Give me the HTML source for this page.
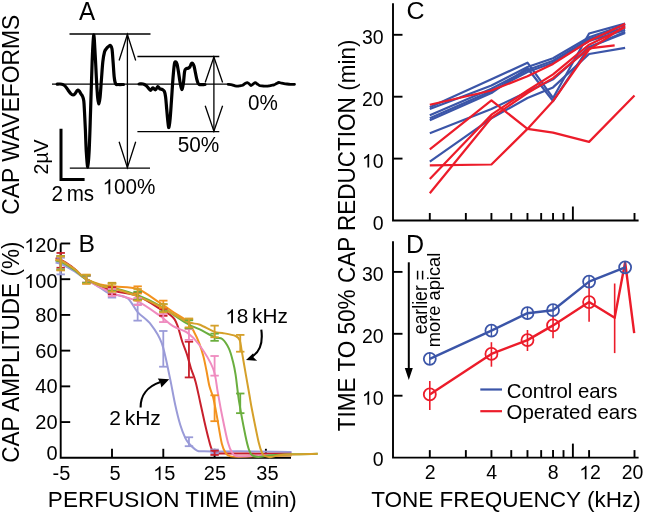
<!DOCTYPE html>
<html><head><meta charset="utf-8"><title>Figure</title>
<style>
html,body{margin:0;padding:0;background:#fff;width:645px;height:515px;overflow:hidden;}
svg{display:block;font-family:"Liberation Sans",sans-serif;will-change:transform;}
</style></head><body>
<svg width="645" height="515" viewBox="0 0 645 515" font-family="'Liberation Sans', sans-serif">
<rect width="645" height="515" fill="#fff"/>
<text font-size="24" transform="translate(79.05,19.95) rotate(0) scale(1.0062,1.0529)" fill="#000" >A</text>
<text font-size="22.5" transform="translate(19.25,214.65) rotate(-90) scale(1.0149,1.0867)" fill="#000" >CAP WAVEFORMS</text>
<line x1="69.50" y1="34.00" x2="150.50" y2="34.00" stroke="#000" stroke-width="1.30" />
<line x1="52.00" y1="84.20" x2="228.00" y2="84.20" stroke="#000" stroke-width="1.30" />
<line x1="69.80" y1="168.20" x2="150.00" y2="168.20" stroke="#000" stroke-width="1.30" />
<line x1="137.40" y1="56.50" x2="219.30" y2="56.50" stroke="#000" stroke-width="1.30" />
<line x1="137.40" y1="131.70" x2="219.30" y2="131.70" stroke="#000" stroke-width="1.30" />
<line x1="127.40" y1="34.50" x2="127.40" y2="167.70" stroke="#000" stroke-width="1.30" />
<path d="M119.10,60.50 L127.40,34.50 L135.70,60.50" fill="none" stroke="#000" stroke-width="1.30"/>
<path d="M119.10,141.70 L127.40,167.70 L135.70,141.70" fill="none" stroke="#000" stroke-width="1.30"/>
<line x1="213.90" y1="57.00" x2="213.90" y2="131.20" stroke="#000" stroke-width="1.30" />
<path d="M205.20,82.50 L213.90,57.00 L222.60,82.50" fill="none" stroke="#000" stroke-width="1.30"/>
<path d="M205.20,105.70 L213.90,131.20 L222.60,105.70" fill="none" stroke="#000" stroke-width="1.30"/>
<path d="M57.20,84.20 C57.67,84.17 59.03,83.93 60.00,84.00 C60.97,84.07 62.08,84.18 63.00,84.60 C63.92,85.02 64.67,85.60 65.50,86.50 C66.33,87.40 67.17,88.87 68.00,90.00 C68.83,91.13 69.67,92.47 70.50,93.30 C71.33,94.13 72.22,94.97 73.00,95.00 C73.78,95.03 74.47,94.28 75.20,93.50 C75.93,92.72 76.72,90.68 77.40,90.30 C78.08,89.92 78.70,90.58 79.30,91.20 C79.90,91.82 80.45,93.12 81.00,94.00 C81.55,94.88 82.13,95.33 82.60,96.50 C83.07,97.67 83.48,98.42 83.80,101.00 C84.12,103.58 84.23,107.17 84.50,112.00 C84.77,116.83 85.10,123.33 85.40,130.00 C85.70,136.67 85.90,145.83 86.30,152.00 C86.70,158.17 87.32,167.33 87.80,167.00 C88.28,166.67 88.73,159.50 89.20,150.00 C89.67,140.50 90.10,125.00 90.60,110.00 C91.10,95.00 91.68,72.50 92.20,60.00 C92.72,47.50 93.20,35.83 93.70,35.00 C94.20,34.17 94.73,47.50 95.20,55.00 C95.67,62.50 96.10,73.00 96.50,80.00 C96.90,87.00 97.22,93.00 97.60,97.00 C97.98,101.00 98.38,104.00 98.80,104.00 C99.22,104.00 99.67,101.00 100.10,97.00 C100.53,93.00 100.95,85.83 101.40,80.00 C101.85,74.17 102.28,66.67 102.80,62.00 C103.32,57.33 103.88,54.25 104.50,52.00 C105.12,49.75 105.83,49.42 106.50,48.50 C107.17,47.58 107.83,47.00 108.50,46.50 C109.17,46.00 109.92,45.08 110.50,45.50 C111.08,45.92 111.57,46.25 112.00,49.00 C112.43,51.75 112.73,57.33 113.10,62.00 C113.47,66.67 113.78,73.37 114.20,77.00 C114.62,80.63 114.97,82.55 115.60,83.80 C116.23,85.05 116.68,84.38 118.00,84.50 C119.32,84.62 122.58,84.50 123.50,84.50" fill="none" stroke="#000" stroke-width="3.2" stroke-linejoin="round" stroke-linecap="round"/>
<path d="M139.10,84.00 C139.75,84.00 141.85,83.75 143.00,84.00 C144.15,84.25 145.13,84.87 146.00,85.50 C146.87,86.13 147.45,87.00 148.20,87.80 C148.95,88.60 149.73,90.28 150.50,90.30 C151.27,90.32 151.97,87.98 152.80,87.90 C153.63,87.82 154.67,90.02 155.50,89.80 C156.33,89.58 157.08,86.77 157.80,86.60 C158.52,86.43 159.07,88.32 159.80,88.80 C160.53,89.28 161.43,89.05 162.20,89.50 C162.97,89.95 163.83,90.25 164.40,91.50 C164.97,92.75 165.23,94.25 165.60,97.00 C165.97,99.75 166.25,104.17 166.60,108.00 C166.95,111.83 167.32,116.73 167.70,120.00 C168.08,123.27 168.48,127.93 168.90,127.60 C169.32,127.27 169.77,122.60 170.20,118.00 C170.63,113.40 171.03,106.67 171.50,100.00 C171.97,93.33 172.52,84.00 173.00,78.00 C173.48,72.00 173.97,66.70 174.40,64.00 C174.83,61.30 175.17,61.80 175.60,61.80 C176.03,61.80 176.52,62.30 177.00,64.00 C177.48,65.70 178.00,69.00 178.50,72.00 C179.00,75.00 179.45,79.08 180.00,82.00 C180.55,84.92 181.23,89.33 181.80,89.50 C182.37,89.67 182.93,86.00 183.40,83.00 C183.87,80.00 184.17,73.87 184.60,71.50 C185.03,69.13 185.43,69.33 186.00,68.80 C186.57,68.27 187.37,68.60 188.00,68.30 C188.63,68.00 189.25,67.75 189.80,67.00 C190.35,66.25 190.85,64.42 191.30,63.80 C191.75,63.18 192.05,62.93 192.50,63.30 C192.95,63.67 193.50,64.38 194.00,66.00 C194.50,67.62 195.00,70.67 195.50,73.00 C196.00,75.33 196.42,78.12 197.00,80.00 C197.58,81.88 197.67,83.55 199.00,84.30 C200.33,85.05 204.00,84.47 205.00,84.50" fill="none" stroke="#000" stroke-width="3.2" stroke-linejoin="round" stroke-linecap="round"/>
<path d="M228.20,84.30 C228.83,84.38 230.87,84.55 232.00,84.80 C233.13,85.05 234.05,85.57 235.00,85.80 C235.95,86.03 236.87,86.20 237.70,86.20 C238.53,86.20 239.18,85.95 240.00,85.80 C240.82,85.65 241.77,85.68 242.60,85.30 C243.43,84.92 244.20,83.95 245.00,83.50 C245.80,83.05 246.68,82.52 247.40,82.60 C248.12,82.68 248.70,83.52 249.30,84.00 C249.90,84.48 250.38,85.47 251.00,85.50 C251.62,85.53 252.28,84.68 253.00,84.20 C253.72,83.72 254.58,82.63 255.30,82.60 C256.02,82.57 256.60,83.52 257.30,84.00 C258.00,84.48 258.72,85.18 259.50,85.50 C260.28,85.82 261.17,85.80 262.00,85.90 C262.83,86.00 263.72,86.07 264.50,86.10 C265.28,86.13 265.95,86.15 266.70,86.10 C267.45,86.05 268.20,85.93 269.00,85.80 C269.80,85.67 270.67,85.45 271.50,85.30 C272.33,85.15 273.17,85.20 274.00,84.90 C274.83,84.60 275.70,83.90 276.50,83.50 C277.30,83.10 278.05,82.58 278.80,82.50 C279.55,82.42 280.13,82.82 281.00,83.00 C281.87,83.18 283.00,83.43 284.00,83.60 C285.00,83.77 285.92,83.88 287.00,84.00 C288.08,84.12 289.25,84.25 290.50,84.30 C291.75,84.35 293.83,84.30 294.50,84.30" fill="none" stroke="#000" stroke-width="2.8" stroke-linejoin="round" stroke-linecap="round"/>
<path d="M61.0,128.8 L61.0,179.6 L84.6,179.6" fill="none" stroke="#000" stroke-width="3"/>
<text font-size="20" transform="translate(47.85,174.45) rotate(-90) scale(0.9743,1.0167)" fill="#000" >2µV</text>
<text font-size="21" transform="translate(51.50,201.20) rotate(0) scale(0.9810,1.0429)" fill="#000" word-spacing="-2">2 ms</text>
<g transform="translate(102.55,194.35) rotate(0) scale(1.0354,1.0929)"><path d="M763,0 L583,0 L583,1147 Q518,1085 412.5,1023 Q307,961 223,930 L223,1104 Q374,1175 487,1276 Q600,1377 647,1472 L763,1472 Z" fill="#000" transform="translate(0.00,0.00) scale(0.00977,-0.00945)"/><text font-size="20" fill="#000" > 00%</text></g>
<text font-size="20" transform="translate(177.65,151.90) rotate(0) scale(1.0395,1.0857)" fill="#000" >50%</text>
<text font-size="20" transform="translate(247.95,110.00) rotate(0) scale(1.0333,1.0714)" fill="#000" >0%</text>
<path d="M60.70,243.50 L60.70,457.80 L291.00,457.80" fill="none" stroke="#000" stroke-width="1.90"/>
<line x1="60.70" y1="422.08" x2="70.20" y2="422.08" stroke="#000" stroke-width="1.90" />
<text x="57.60" y="429.08" font-size="20.00" text-anchor="end" fill="#000" >20</text>
<line x1="60.70" y1="386.36" x2="70.20" y2="386.36" stroke="#000" stroke-width="1.90" />
<text x="57.60" y="393.36" font-size="20.00" text-anchor="end" fill="#000" >40</text>
<line x1="60.70" y1="350.64" x2="70.20" y2="350.64" stroke="#000" stroke-width="1.90" />
<text x="57.60" y="358.04" font-size="20.00" text-anchor="end" fill="#000" >60</text>
<line x1="60.70" y1="314.92" x2="70.20" y2="314.92" stroke="#000" stroke-width="1.90" />
<text x="57.60" y="322.12" font-size="20.00" text-anchor="end" fill="#000" >80</text>
<line x1="60.70" y1="279.20" x2="70.20" y2="279.20" stroke="#000" stroke-width="1.90" />
<path d="M763,0 L583,0 L583,1147 Q518,1085 412.5,1023 Q307,961 223,930 L223,1104 Q374,1175 487,1276 Q600,1377 647,1472 L763,1472 Z" fill="#000" transform="translate(24.23,288.00) scale(0.00977,-0.00945)"/>
<text x="57.60" y="288.00" font-size="20.00" text-anchor="end" fill="#000" > 00</text>
<line x1="60.70" y1="243.48" x2="70.20" y2="243.48" stroke="#000" stroke-width="1.90" />
<path d="M763,0 L583,0 L583,1147 Q518,1085 412.5,1023 Q307,961 223,930 L223,1104 Q374,1175 487,1276 Q600,1377 647,1472 L763,1472 Z" fill="#000" transform="translate(24.23,252.08) scale(0.00977,-0.00945)"/>
<text x="57.60" y="252.08" font-size="20.00" text-anchor="end" fill="#000" > 20</text>
<text x="57.60" y="460.30" font-size="20.00" text-anchor="end" fill="#000" >0</text>
<line x1="112.00" y1="457.80" x2="112.00" y2="448.80" stroke="#000" stroke-width="1.90" />
<line x1="163.30" y1="457.80" x2="163.30" y2="448.80" stroke="#000" stroke-width="1.90" />
<line x1="214.60" y1="457.80" x2="214.60" y2="448.80" stroke="#000" stroke-width="1.90" />
<line x1="265.90" y1="457.80" x2="265.90" y2="448.80" stroke="#000" stroke-width="1.90" />
<text x="61.40" y="480.10" font-size="20.00" text-anchor="middle" fill="#000" >-5</text>
<text x="115.00" y="480.10" font-size="20.00" text-anchor="middle" fill="#000" >5</text>
<path d="M763,0 L583,0 L583,1147 Q518,1085 412.5,1023 Q307,961 223,930 L223,1104 Q374,1175 487,1276 Q600,1377 647,1472 L763,1472 Z" fill="#000" transform="translate(153.08,480.10) scale(0.00977,-0.00945)"/>
<text x="164.20" y="480.10" font-size="20.00" text-anchor="middle" fill="#000" > 5</text>
<text x="214.90" y="480.10" font-size="20.00" text-anchor="middle" fill="#000" >25</text>
<text x="267.40" y="480.10" font-size="20.00" text-anchor="middle" fill="#000" >35</text>
<text font-size="24" transform="translate(78.40,252.30) rotate(0) scale(1.0308,1.0353)" fill="#000" >B</text>
<text font-size="22.5" transform="translate(19.45,462.70) rotate(-90) scale(1.0018,1.0733)" fill="#000" >CAP AMPLITUDE (%)</text>
<text font-size="22.5" transform="translate(47.85,507.15) rotate(0) scale(1.0029,1.0188)" fill="#000" >PERFUSION TIME (min)</text>
<path d="M55.57,262.59 C56.42,262.80 58.99,263.22 60.70,263.84 C62.41,264.47 63.44,265.03 65.83,266.34 C68.22,267.65 72.50,270.09 75.06,271.70 C77.63,273.31 79.34,274.74 81.22,275.99 C83.10,277.24 83.36,277.35 86.35,279.20 C89.34,281.05 95.58,284.80 99.18,287.06 C102.77,289.32 105.16,291.49 107.90,292.77 C110.63,294.05 112.26,293.79 115.59,294.74 C118.93,295.69 124.23,295.60 127.90,298.49 C131.58,301.38 133.80,307.72 137.65,312.06 C141.50,316.41 146.97,319.38 150.99,324.56 C155.01,329.74 158.68,334.63 161.76,343.14 C164.84,351.65 167.23,365.46 169.46,375.64 C171.68,385.82 173.30,396.03 175.10,404.22 C176.89,412.41 178.52,419.10 180.23,424.76 C181.94,430.41 183.91,435.03 185.36,438.15 C186.81,441.28 187.07,441.49 188.95,443.51 C190.83,445.54 194.08,448.99 196.64,450.30 C199.21,451.61 197.07,451.19 204.34,451.37 C211.61,451.55 228.28,451.31 240.25,451.37 C252.22,451.43 267.61,451.61 276.16,451.73 C284.71,451.85 288.99,452.03 291.55,452.08" fill="none" stroke="#9a9bd8" stroke-width="2.00" stroke-linejoin="round"/>
<path d="M55.57,258.13 C56.42,258.36 58.99,258.81 60.70,259.55 C62.41,260.30 63.44,260.98 65.83,262.59 C68.22,264.20 72.50,267.11 75.06,269.20 C77.63,271.28 79.34,273.43 81.22,275.09 C83.10,276.76 83.19,277.29 86.35,279.20 C89.51,281.11 95.33,284.50 100.20,286.52 C105.07,288.55 109.35,289.77 115.59,291.34 C121.83,292.92 130.38,293.16 137.65,295.99 C144.92,298.82 153.04,304.41 159.20,308.31 C165.35,312.21 170.74,313.82 174.59,319.38 C178.43,324.95 180.23,335.91 182.28,341.71 C184.33,347.51 185.44,349.75 186.90,354.21 C188.35,358.68 189.55,363.89 191.00,368.50 C192.46,373.11 194.08,376.24 195.62,381.89 C197.16,387.55 198.78,395.89 200.24,402.43 C201.69,408.98 202.97,415.23 204.34,421.19 C205.71,427.14 207.16,433.39 208.44,438.15 C209.73,442.92 210.58,447.26 212.04,449.76 C213.49,452.26 215.03,452.53 217.17,453.16 C219.30,453.78 216.74,453.42 224.86,453.51 C232.98,453.60 254.78,453.63 265.90,453.69 C277.01,453.75 287.27,453.84 291.55,453.87" fill="none" stroke="#c8202c" stroke-width="2.00" stroke-linejoin="round"/>
<path d="M55.57,259.91 C56.42,260.09 58.99,260.39 60.70,260.98 C62.41,261.58 63.44,262.02 65.83,263.48 C68.22,264.94 72.50,267.77 75.06,269.73 C77.63,271.70 79.34,273.69 81.22,275.27 C83.10,276.85 83.19,277.65 86.35,279.20 C89.51,280.75 95.33,283.34 100.20,284.56 C105.07,285.78 109.35,285.78 115.59,286.52 C121.83,287.27 130.38,286.37 137.65,289.02 C144.92,291.67 153.21,298.55 159.20,302.42 C165.18,306.29 168.94,309.12 173.56,312.24 C178.18,315.37 183.48,317.90 186.90,321.17 C190.32,324.45 192.03,328.23 194.08,331.89 C196.13,335.55 197.67,339.12 199.21,343.14 C200.75,347.16 202.12,351.47 203.31,356.00 C204.51,360.52 205.37,365.23 206.39,370.29 C207.42,375.35 208.36,381.89 209.47,386.36 C210.58,390.83 211.86,392.31 213.06,397.08 C214.26,401.84 215.20,407.20 216.65,414.94 C218.11,422.68 220.24,437.11 221.78,443.51 C223.32,449.91 224.43,451.19 225.89,453.34 C227.34,455.48 228.11,455.81 230.50,456.37 C232.90,456.94 234.35,456.79 240.25,456.73 C246.15,456.67 257.35,456.22 265.90,456.01 C274.45,455.81 287.27,455.57 291.55,455.48" fill="none" stroke="#f3921e" stroke-width="2.00" stroke-linejoin="round"/>
<path d="M55.57,260.27 C56.42,260.45 58.99,260.71 60.70,261.34 C62.41,261.97 63.44,262.56 65.83,264.02 C68.22,265.48 72.50,268.19 75.06,270.09 C77.63,272.00 79.34,273.93 81.22,275.45 C83.10,276.97 83.19,277.21 86.35,279.20 C89.51,281.19 95.33,284.89 100.20,287.42 C105.07,289.95 109.35,292.06 115.59,294.38 C121.83,296.70 130.38,297.86 137.65,301.35 C144.92,304.83 153.30,311.14 159.20,315.28 C165.10,319.41 168.43,323.31 173.05,326.17 C177.66,329.03 182.54,329.33 186.90,332.42 C191.26,335.52 194.85,338.73 199.21,344.75 C203.57,350.76 209.98,360.67 213.06,368.50 C216.14,376.33 216.22,384.13 217.68,391.72 C219.13,399.31 220.07,405.59 221.78,414.04 C223.49,422.50 226.14,435.89 227.94,442.44 C229.73,448.99 231.10,451.07 232.56,453.34 C234.01,455.60 234.52,455.54 236.66,456.01 C238.80,456.49 240.51,456.31 245.38,456.19 C250.25,456.07 258.20,455.54 265.90,455.30 C273.59,455.06 287.27,454.85 291.55,454.76" fill="none" stroke="#ef8bbf" stroke-width="2.00" stroke-linejoin="round"/>
<path d="M55.57,260.63 C56.42,260.80 58.99,261.07 60.70,261.70 C62.41,262.32 63.44,262.92 65.83,264.38 C68.22,265.83 72.50,268.57 75.06,270.45 C77.63,272.32 79.34,274.17 81.22,275.63 C83.10,277.09 83.19,277.56 86.35,279.20 C89.51,280.84 95.33,283.90 100.20,285.45 C105.07,287.00 109.35,286.85 115.59,288.49 C121.83,290.12 130.38,292.45 137.65,295.27 C144.92,298.10 150.99,300.75 159.20,305.45 C167.40,310.16 180.23,319.53 186.90,323.49 C193.57,327.45 194.59,326.92 199.21,329.21 C203.83,331.50 210.75,335.61 214.60,337.25 C218.45,338.88 219.90,337.13 222.30,339.03 C224.69,340.94 227.17,344.84 228.96,348.68 C230.76,352.52 231.96,357.69 233.07,362.07 C234.18,366.45 234.61,368.20 235.63,374.93 C236.66,381.66 237.60,392.34 239.22,402.43 C240.85,412.52 243.76,427.59 245.38,435.48 C247.00,443.36 247.86,446.49 248.97,449.76 C250.08,453.04 250.51,453.93 252.05,455.12 C253.59,456.31 255.04,456.88 258.20,456.91 C261.37,456.94 265.47,455.75 271.03,455.30 C276.59,454.85 283.77,454.47 291.55,454.23 C299.33,453.99 313.35,453.93 317.71,453.87" fill="none" stroke="#6aae3e" stroke-width="2.00" stroke-linejoin="round"/>
<path d="M55.57,259.73 C56.42,259.91 58.99,260.21 60.70,260.80 C62.41,261.40 63.44,261.85 65.83,263.30 C68.22,264.76 72.50,267.59 75.06,269.56 C77.63,271.52 79.34,273.48 81.22,275.09 C83.10,276.70 83.19,277.47 86.35,279.20 C89.51,280.93 95.33,283.81 100.20,285.45 C105.07,287.09 109.35,287.21 115.59,289.02 C121.83,290.84 130.38,293.52 137.65,296.35 C144.92,299.17 150.99,301.79 159.20,305.99 C167.40,310.19 180.23,318.43 186.90,321.53 C193.57,324.62 194.59,322.84 199.21,324.56 C203.83,326.29 210.75,330.49 214.60,331.89 C218.45,333.29 218.79,332.27 222.30,332.96 C225.80,333.64 232.73,334.77 235.63,335.99 C238.54,337.22 238.71,337.75 239.74,340.28 C240.76,342.81 240.76,345.40 241.79,351.18 C242.81,356.95 244.61,367.58 245.89,374.93 C247.18,382.28 248.46,389.46 249.48,395.29 C250.51,401.12 250.51,402.08 252.05,409.94 C253.59,417.79 257.01,435.21 258.72,442.44 C260.43,449.67 261.11,451.01 262.31,453.34 C263.51,455.66 264.45,455.75 265.90,456.37 C267.35,457.00 268.04,457.35 271.03,457.09 C274.02,456.82 276.07,455.30 283.86,454.76 C291.64,454.23 312.07,454.02 317.71,453.87" fill="none" stroke="#d5a02a" stroke-width="2.00" stroke-linejoin="round"/>
<line x1="60.70" y1="257.77" x2="60.70" y2="274.38" stroke="#9a9bd8" stroke-width="1.80" />
<line x1="56.50" y1="257.77" x2="64.90" y2="257.77" stroke="#9a9bd8" stroke-width="1.80" />
<line x1="56.50" y1="274.38" x2="64.90" y2="274.38" stroke="#9a9bd8" stroke-width="1.80" />
<line x1="86.35" y1="275.63" x2="86.35" y2="282.77" stroke="#9a9bd8" stroke-width="1.80" />
<line x1="82.15" y1="275.63" x2="90.55" y2="275.63" stroke="#9a9bd8" stroke-width="1.80" />
<line x1="82.15" y1="282.77" x2="90.55" y2="282.77" stroke="#9a9bd8" stroke-width="1.80" />
<line x1="112.00" y1="290.81" x2="112.00" y2="297.60" stroke="#9a9bd8" stroke-width="1.80" />
<line x1="107.80" y1="290.81" x2="116.20" y2="290.81" stroke="#9a9bd8" stroke-width="1.80" />
<line x1="107.80" y1="297.60" x2="116.20" y2="297.60" stroke="#9a9bd8" stroke-width="1.80" />
<line x1="137.65" y1="304.56" x2="137.65" y2="320.64" stroke="#9a9bd8" stroke-width="1.80" />
<line x1="133.45" y1="304.56" x2="141.85" y2="304.56" stroke="#9a9bd8" stroke-width="1.80" />
<line x1="133.45" y1="320.64" x2="141.85" y2="320.64" stroke="#9a9bd8" stroke-width="1.80" />
<line x1="163.30" y1="330.99" x2="163.30" y2="366.71" stroke="#9a9bd8" stroke-width="1.80" />
<line x1="159.10" y1="330.99" x2="167.50" y2="330.99" stroke="#9a9bd8" stroke-width="1.80" />
<line x1="159.10" y1="366.71" x2="167.50" y2="366.71" stroke="#9a9bd8" stroke-width="1.80" />
<line x1="188.95" y1="437.26" x2="188.95" y2="446.19" stroke="#9a9bd8" stroke-width="1.80" />
<line x1="184.75" y1="437.26" x2="193.15" y2="437.26" stroke="#9a9bd8" stroke-width="1.80" />
<line x1="184.75" y1="446.19" x2="193.15" y2="446.19" stroke="#9a9bd8" stroke-width="1.80" />
<line x1="214.60" y1="449.58" x2="214.60" y2="453.16" stroke="#9a9bd8" stroke-width="1.80" />
<line x1="210.40" y1="449.58" x2="218.80" y2="449.58" stroke="#9a9bd8" stroke-width="1.80" />
<line x1="210.40" y1="453.16" x2="218.80" y2="453.16" stroke="#9a9bd8" stroke-width="1.80" />
<line x1="60.70" y1="252.95" x2="60.70" y2="267.77" stroke="#c8202c" stroke-width="1.80" />
<line x1="56.50" y1="252.95" x2="64.90" y2="252.95" stroke="#c8202c" stroke-width="1.80" />
<line x1="56.50" y1="267.77" x2="64.90" y2="267.77" stroke="#c8202c" stroke-width="1.80" />
<line x1="86.35" y1="275.63" x2="86.35" y2="282.77" stroke="#c8202c" stroke-width="1.80" />
<line x1="82.15" y1="275.63" x2="90.55" y2="275.63" stroke="#c8202c" stroke-width="1.80" />
<line x1="82.15" y1="282.77" x2="90.55" y2="282.77" stroke="#c8202c" stroke-width="1.80" />
<line x1="112.00" y1="287.24" x2="112.00" y2="294.38" stroke="#c8202c" stroke-width="1.80" />
<line x1="107.80" y1="287.24" x2="116.20" y2="287.24" stroke="#c8202c" stroke-width="1.80" />
<line x1="107.80" y1="294.38" x2="116.20" y2="294.38" stroke="#c8202c" stroke-width="1.80" />
<line x1="137.65" y1="292.60" x2="137.65" y2="299.74" stroke="#c8202c" stroke-width="1.80" />
<line x1="133.45" y1="292.60" x2="141.85" y2="292.60" stroke="#c8202c" stroke-width="1.80" />
<line x1="133.45" y1="299.74" x2="141.85" y2="299.74" stroke="#c8202c" stroke-width="1.80" />
<line x1="163.30" y1="308.67" x2="163.30" y2="315.81" stroke="#c8202c" stroke-width="1.80" />
<line x1="159.10" y1="308.67" x2="167.50" y2="308.67" stroke="#c8202c" stroke-width="1.80" />
<line x1="159.10" y1="315.81" x2="167.50" y2="315.81" stroke="#c8202c" stroke-width="1.80" />
<line x1="188.95" y1="341.71" x2="188.95" y2="377.43" stroke="#c8202c" stroke-width="1.80" />
<line x1="184.75" y1="341.71" x2="193.15" y2="341.71" stroke="#c8202c" stroke-width="1.80" />
<line x1="184.75" y1="377.43" x2="193.15" y2="377.43" stroke="#c8202c" stroke-width="1.80" />
<line x1="214.60" y1="450.66" x2="214.60" y2="454.94" stroke="#c8202c" stroke-width="1.80" />
<line x1="210.40" y1="450.66" x2="218.80" y2="450.66" stroke="#c8202c" stroke-width="1.80" />
<line x1="210.40" y1="454.94" x2="218.80" y2="454.94" stroke="#c8202c" stroke-width="1.80" />
<line x1="60.70" y1="256.34" x2="60.70" y2="270.27" stroke="#f3921e" stroke-width="1.80" />
<line x1="56.50" y1="256.34" x2="64.90" y2="256.34" stroke="#f3921e" stroke-width="1.80" />
<line x1="56.50" y1="270.27" x2="64.90" y2="270.27" stroke="#f3921e" stroke-width="1.80" />
<line x1="86.35" y1="274.74" x2="86.35" y2="283.67" stroke="#f3921e" stroke-width="1.80" />
<line x1="82.15" y1="274.74" x2="90.55" y2="274.74" stroke="#f3921e" stroke-width="1.80" />
<line x1="82.15" y1="283.67" x2="90.55" y2="283.67" stroke="#f3921e" stroke-width="1.80" />
<line x1="112.00" y1="282.77" x2="112.00" y2="289.92" stroke="#f3921e" stroke-width="1.80" />
<line x1="107.80" y1="282.77" x2="116.20" y2="282.77" stroke="#f3921e" stroke-width="1.80" />
<line x1="107.80" y1="289.92" x2="116.20" y2="289.92" stroke="#f3921e" stroke-width="1.80" />
<line x1="137.65" y1="286.34" x2="137.65" y2="293.49" stroke="#f3921e" stroke-width="1.80" />
<line x1="133.45" y1="286.34" x2="141.85" y2="286.34" stroke="#f3921e" stroke-width="1.80" />
<line x1="133.45" y1="293.49" x2="141.85" y2="293.49" stroke="#f3921e" stroke-width="1.80" />
<line x1="163.30" y1="300.63" x2="163.30" y2="307.78" stroke="#f3921e" stroke-width="1.80" />
<line x1="159.10" y1="300.63" x2="167.50" y2="300.63" stroke="#f3921e" stroke-width="1.80" />
<line x1="159.10" y1="307.78" x2="167.50" y2="307.78" stroke="#f3921e" stroke-width="1.80" />
<line x1="188.95" y1="319.38" x2="188.95" y2="328.31" stroke="#f3921e" stroke-width="1.80" />
<line x1="184.75" y1="319.38" x2="193.15" y2="319.38" stroke="#f3921e" stroke-width="1.80" />
<line x1="184.75" y1="328.31" x2="193.15" y2="328.31" stroke="#f3921e" stroke-width="1.80" />
<line x1="214.60" y1="395.29" x2="214.60" y2="421.19" stroke="#f3921e" stroke-width="1.80" />
<line x1="210.40" y1="395.29" x2="218.80" y2="395.29" stroke="#f3921e" stroke-width="1.80" />
<line x1="210.40" y1="421.19" x2="218.80" y2="421.19" stroke="#f3921e" stroke-width="1.80" />
<line x1="60.70" y1="255.98" x2="60.70" y2="269.38" stroke="#ef8bbf" stroke-width="1.80" />
<line x1="56.50" y1="255.98" x2="64.90" y2="255.98" stroke="#ef8bbf" stroke-width="1.80" />
<line x1="56.50" y1="269.38" x2="64.90" y2="269.38" stroke="#ef8bbf" stroke-width="1.80" />
<line x1="86.35" y1="275.63" x2="86.35" y2="282.77" stroke="#ef8bbf" stroke-width="1.80" />
<line x1="82.15" y1="275.63" x2="90.55" y2="275.63" stroke="#ef8bbf" stroke-width="1.80" />
<line x1="82.15" y1="282.77" x2="90.55" y2="282.77" stroke="#ef8bbf" stroke-width="1.80" />
<line x1="112.00" y1="289.02" x2="112.00" y2="296.17" stroke="#ef8bbf" stroke-width="1.80" />
<line x1="107.80" y1="289.02" x2="116.20" y2="289.02" stroke="#ef8bbf" stroke-width="1.80" />
<line x1="107.80" y1="296.17" x2="116.20" y2="296.17" stroke="#ef8bbf" stroke-width="1.80" />
<line x1="137.65" y1="297.95" x2="137.65" y2="305.10" stroke="#ef8bbf" stroke-width="1.80" />
<line x1="133.45" y1="297.95" x2="141.85" y2="297.95" stroke="#ef8bbf" stroke-width="1.80" />
<line x1="133.45" y1="305.10" x2="141.85" y2="305.10" stroke="#ef8bbf" stroke-width="1.80" />
<line x1="163.30" y1="314.03" x2="163.30" y2="322.06" stroke="#ef8bbf" stroke-width="1.80" />
<line x1="159.10" y1="314.03" x2="167.50" y2="314.03" stroke="#ef8bbf" stroke-width="1.80" />
<line x1="159.10" y1="322.06" x2="167.50" y2="322.06" stroke="#ef8bbf" stroke-width="1.80" />
<line x1="188.95" y1="329.21" x2="188.95" y2="339.92" stroke="#ef8bbf" stroke-width="1.80" />
<line x1="184.75" y1="329.21" x2="193.15" y2="329.21" stroke="#ef8bbf" stroke-width="1.80" />
<line x1="184.75" y1="339.92" x2="193.15" y2="339.92" stroke="#ef8bbf" stroke-width="1.80" />
<line x1="214.60" y1="356.00" x2="214.60" y2="375.64" stroke="#ef8bbf" stroke-width="1.80" />
<line x1="210.40" y1="356.00" x2="218.80" y2="356.00" stroke="#ef8bbf" stroke-width="1.80" />
<line x1="210.40" y1="375.64" x2="218.80" y2="375.64" stroke="#ef8bbf" stroke-width="1.80" />
<line x1="60.70" y1="255.98" x2="60.70" y2="269.38" stroke="#6aae3e" stroke-width="1.80" />
<line x1="56.50" y1="255.98" x2="64.90" y2="255.98" stroke="#6aae3e" stroke-width="1.80" />
<line x1="56.50" y1="269.38" x2="64.90" y2="269.38" stroke="#6aae3e" stroke-width="1.80" />
<line x1="86.35" y1="275.63" x2="86.35" y2="282.77" stroke="#6aae3e" stroke-width="1.80" />
<line x1="82.15" y1="275.63" x2="90.55" y2="275.63" stroke="#6aae3e" stroke-width="1.80" />
<line x1="82.15" y1="282.77" x2="90.55" y2="282.77" stroke="#6aae3e" stroke-width="1.80" />
<line x1="112.00" y1="283.49" x2="112.00" y2="290.81" stroke="#6aae3e" stroke-width="1.80" />
<line x1="107.80" y1="283.49" x2="116.20" y2="283.49" stroke="#6aae3e" stroke-width="1.80" />
<line x1="107.80" y1="290.81" x2="116.20" y2="290.81" stroke="#6aae3e" stroke-width="1.80" />
<line x1="137.65" y1="291.70" x2="137.65" y2="299.74" stroke="#6aae3e" stroke-width="1.80" />
<line x1="133.45" y1="291.70" x2="141.85" y2="291.70" stroke="#6aae3e" stroke-width="1.80" />
<line x1="133.45" y1="299.74" x2="141.85" y2="299.74" stroke="#6aae3e" stroke-width="1.80" />
<line x1="163.30" y1="304.20" x2="163.30" y2="311.35" stroke="#6aae3e" stroke-width="1.80" />
<line x1="159.10" y1="304.20" x2="167.50" y2="304.20" stroke="#6aae3e" stroke-width="1.80" />
<line x1="159.10" y1="311.35" x2="167.50" y2="311.35" stroke="#6aae3e" stroke-width="1.80" />
<line x1="188.95" y1="320.28" x2="188.95" y2="328.31" stroke="#6aae3e" stroke-width="1.80" />
<line x1="184.75" y1="320.28" x2="193.15" y2="320.28" stroke="#6aae3e" stroke-width="1.80" />
<line x1="184.75" y1="328.31" x2="193.15" y2="328.31" stroke="#6aae3e" stroke-width="1.80" />
<line x1="214.60" y1="333.67" x2="214.60" y2="340.82" stroke="#6aae3e" stroke-width="1.80" />
<line x1="210.40" y1="333.67" x2="218.80" y2="333.67" stroke="#6aae3e" stroke-width="1.80" />
<line x1="210.40" y1="340.82" x2="218.80" y2="340.82" stroke="#6aae3e" stroke-width="1.80" />
<line x1="240.25" y1="393.50" x2="240.25" y2="413.15" stroke="#6aae3e" stroke-width="1.80" />
<line x1="236.05" y1="393.50" x2="244.45" y2="393.50" stroke="#6aae3e" stroke-width="1.80" />
<line x1="236.05" y1="413.15" x2="244.45" y2="413.15" stroke="#6aae3e" stroke-width="1.80" />
<line x1="60.70" y1="256.34" x2="60.70" y2="270.27" stroke="#d5a02a" stroke-width="1.80" />
<line x1="56.50" y1="256.34" x2="64.90" y2="256.34" stroke="#d5a02a" stroke-width="1.80" />
<line x1="56.50" y1="270.27" x2="64.90" y2="270.27" stroke="#d5a02a" stroke-width="1.80" />
<line x1="86.35" y1="274.74" x2="86.35" y2="283.67" stroke="#d5a02a" stroke-width="1.80" />
<line x1="82.15" y1="274.74" x2="90.55" y2="274.74" stroke="#d5a02a" stroke-width="1.80" />
<line x1="82.15" y1="283.67" x2="90.55" y2="283.67" stroke="#d5a02a" stroke-width="1.80" />
<line x1="112.00" y1="283.67" x2="112.00" y2="291.70" stroke="#d5a02a" stroke-width="1.80" />
<line x1="107.80" y1="283.67" x2="116.20" y2="283.67" stroke="#d5a02a" stroke-width="1.80" />
<line x1="107.80" y1="291.70" x2="116.20" y2="291.70" stroke="#d5a02a" stroke-width="1.80" />
<line x1="137.65" y1="289.02" x2="137.65" y2="300.63" stroke="#d5a02a" stroke-width="1.80" />
<line x1="133.45" y1="289.02" x2="141.85" y2="289.02" stroke="#d5a02a" stroke-width="1.80" />
<line x1="133.45" y1="300.63" x2="141.85" y2="300.63" stroke="#d5a02a" stroke-width="1.80" />
<line x1="163.30" y1="304.20" x2="163.30" y2="312.24" stroke="#d5a02a" stroke-width="1.80" />
<line x1="159.10" y1="304.20" x2="167.50" y2="304.20" stroke="#d5a02a" stroke-width="1.80" />
<line x1="159.10" y1="312.24" x2="167.50" y2="312.24" stroke="#d5a02a" stroke-width="1.80" />
<line x1="188.95" y1="318.49" x2="188.95" y2="327.42" stroke="#d5a02a" stroke-width="1.80" />
<line x1="184.75" y1="318.49" x2="193.15" y2="318.49" stroke="#d5a02a" stroke-width="1.80" />
<line x1="184.75" y1="327.42" x2="193.15" y2="327.42" stroke="#d5a02a" stroke-width="1.80" />
<line x1="214.60" y1="325.64" x2="214.60" y2="337.25" stroke="#d5a02a" stroke-width="1.80" />
<line x1="210.40" y1="325.64" x2="218.80" y2="325.64" stroke="#d5a02a" stroke-width="1.80" />
<line x1="210.40" y1="337.25" x2="218.80" y2="337.25" stroke="#d5a02a" stroke-width="1.80" />
<line x1="240.25" y1="334.92" x2="240.25" y2="351.71" stroke="#d5a02a" stroke-width="1.80" />
<line x1="236.05" y1="334.92" x2="244.45" y2="334.92" stroke="#d5a02a" stroke-width="1.80" />
<line x1="236.05" y1="351.71" x2="244.45" y2="351.71" stroke="#d5a02a" stroke-width="1.80" />
<g transform="translate(225.25,323.35) rotate(0) scale(1.0119,0.9800)"><path d="M763,0 L583,0 L583,1147 Q518,1085 412.5,1023 Q307,961 223,930 L223,1104 Q374,1175 487,1276 Q600,1377 647,1472 L763,1472 Z" fill="#000" transform="translate(0.00,0.00) scale(0.01001,-0.00969)"/><text font-size="20.5" fill="#000" word-spacing="-2"> 8 kHz</text></g>
<text font-size="20.5" transform="translate(109.15,424.50) rotate(0) scale(1.0265,0.9467)" fill="#000" word-spacing="-2">2 kHz</text>
<path d="M140.6,407.6 C140.4,396 147,386.5 160.5,382" fill="none" stroke="#000" stroke-width="2.1"/>
<path d="M169.2,379.3 L157.8,378.6 L160.2,382.6 L161.4,387.6 Z" fill="#000"/>
<path d="M261.3,329.7 C263,342 260.5,351 252.5,356.2" fill="none" stroke="#000" stroke-width="2.1"/>
<path d="M246.0,360.0 L253.2,353.2 L253.6,357.6 L257.2,360.8 Z" fill="#000"/>
<path d="M393.00,3.20 L393.00,220.50 L638.60,220.50" fill="none" stroke="#000" stroke-width="1.90"/>
<line x1="429.80" y1="220.50" x2="429.80" y2="213.00" stroke="#000" stroke-width="1.90" />
<line x1="465.85" y1="220.50" x2="465.85" y2="213.00" stroke="#000" stroke-width="1.90" />
<line x1="491.42" y1="220.50" x2="491.42" y2="213.00" stroke="#000" stroke-width="1.90" />
<line x1="511.26" y1="220.50" x2="511.26" y2="213.00" stroke="#000" stroke-width="1.90" />
<line x1="527.47" y1="220.50" x2="527.47" y2="213.00" stroke="#000" stroke-width="1.90" />
<line x1="541.17" y1="220.50" x2="541.17" y2="213.00" stroke="#000" stroke-width="1.90" />
<line x1="553.04" y1="220.50" x2="553.04" y2="213.00" stroke="#000" stroke-width="1.90" />
<line x1="563.51" y1="220.50" x2="563.51" y2="213.00" stroke="#000" stroke-width="1.90" />
<line x1="572.88" y1="220.50" x2="572.88" y2="206.50" stroke="#000" stroke-width="1.90" />
<line x1="634.50" y1="220.50" x2="634.50" y2="213.00" stroke="#000" stroke-width="1.90" />
<line x1="393.00" y1="158.60" x2="402.50" y2="158.60" stroke="#000" stroke-width="1.90" />
<path d="M763,0 L583,0 L583,1147 Q518,1085 412.5,1023 Q307,961 223,930 L223,1104 Q374,1175 487,1276 Q600,1377 647,1472 L763,1472 Z" fill="#000" transform="translate(361.91,167.62) scale(0.00952,-0.00922)"/>
<text x="383.60" y="167.62" font-size="19.50" text-anchor="end" fill="#000" > 0</text>
<line x1="393.00" y1="96.70" x2="402.50" y2="96.70" stroke="#000" stroke-width="1.90" />
<text x="383.60" y="105.72" font-size="19.50" text-anchor="end" fill="#000" >20</text>
<line x1="393.00" y1="34.80" x2="402.50" y2="34.80" stroke="#000" stroke-width="1.90" />
<text x="383.60" y="43.82" font-size="19.50" text-anchor="end" fill="#000" >30</text>
<text x="383.60" y="229.82" font-size="19.50" text-anchor="end" fill="#000" >0</text>
<text font-size="24" transform="translate(406.60,19.35) rotate(0) scale(1.0400,1.0294)" fill="#000" >C</text>
<path d="M393.00,241.30 L393.00,457.60 L638.60,457.60" fill="none" stroke="#000" stroke-width="1.90"/>
<line x1="429.80" y1="457.60" x2="429.80" y2="450.10" stroke="#000" stroke-width="1.90" />
<line x1="465.85" y1="457.60" x2="465.85" y2="450.10" stroke="#000" stroke-width="1.90" />
<line x1="491.42" y1="457.60" x2="491.42" y2="450.10" stroke="#000" stroke-width="1.90" />
<line x1="511.26" y1="457.60" x2="511.26" y2="450.10" stroke="#000" stroke-width="1.90" />
<line x1="527.47" y1="457.60" x2="527.47" y2="450.10" stroke="#000" stroke-width="1.90" />
<line x1="541.17" y1="457.60" x2="541.17" y2="450.10" stroke="#000" stroke-width="1.90" />
<line x1="553.04" y1="457.60" x2="553.04" y2="450.10" stroke="#000" stroke-width="1.90" />
<line x1="563.51" y1="457.60" x2="563.51" y2="450.10" stroke="#000" stroke-width="1.90" />
<line x1="572.88" y1="457.60" x2="572.88" y2="443.60" stroke="#000" stroke-width="1.90" />
<line x1="589.09" y1="457.60" x2="589.09" y2="450.10" stroke="#000" stroke-width="1.90" />
<line x1="634.50" y1="457.60" x2="634.50" y2="450.10" stroke="#000" stroke-width="1.90" />
<line x1="393.00" y1="395.70" x2="402.50" y2="395.70" stroke="#000" stroke-width="1.90" />
<path d="M763,0 L583,0 L583,1147 Q518,1085 412.5,1023 Q307,961 223,930 L223,1104 Q374,1175 487,1276 Q600,1377 647,1472 L763,1472 Z" fill="#000" transform="translate(361.91,404.83) scale(0.00952,-0.00922)"/>
<text x="383.60" y="404.83" font-size="19.50" text-anchor="end" fill="#000" > 0</text>
<line x1="393.00" y1="333.80" x2="402.50" y2="333.80" stroke="#000" stroke-width="1.90" />
<text x="383.60" y="342.93" font-size="19.50" text-anchor="end" fill="#000" >20</text>
<line x1="393.00" y1="271.90" x2="402.50" y2="271.90" stroke="#000" stroke-width="1.90" />
<text x="383.60" y="281.02" font-size="19.50" text-anchor="end" fill="#000" >30</text>
<text x="383.60" y="466.43" font-size="19.50" text-anchor="end" fill="#000" >0</text>
<text font-size="24" transform="translate(405.90,252.65) rotate(0) scale(1.0429,1.0412)" fill="#000" >D</text>
<text x="430.20" y="479.30" font-size="19.50" text-anchor="middle" fill="#000" >2</text>
<text x="491.70" y="479.30" font-size="19.50" text-anchor="middle" fill="#000" >4</text>
<text x="553.20" y="479.30" font-size="19.50" text-anchor="middle" fill="#000" >8</text>
<path d="M763,0 L583,0 L583,1147 Q518,1085 412.5,1023 Q307,961 223,930 L223,1104 Q374,1175 487,1276 Q600,1377 647,1472 L763,1472 Z" fill="#000" transform="translate(579.25,479.30) scale(0.00952,-0.00922)"/>
<text x="590.10" y="479.30" font-size="19.50" text-anchor="middle" fill="#000" > 2</text>
<text x="632.50" y="479.30" font-size="19.50" text-anchor="middle" fill="#000" >20</text>
<text font-size="22.5" transform="translate(371.15,507.10) rotate(0) scale(1.0019,1.0125)" fill="#000" >TONE FREQUENCY (kHz)</text>
<text font-size="22.5" transform="translate(355.05,431.20) rotate(-90) scale(1.0010,1.0312)" fill="#000" >TIME TO 50% CAP REDUCTION (min)</text>
<path d="M429.80,107.22 L491.42,79.37 L527.47,62.66 L553.04,97.94 L589.09,33.56 L625.13,23.66" fill="none" stroke="#3b55a8" stroke-width="2.20" stroke-linejoin="round"/>
<path d="M429.80,109.08 L491.42,85.56 L527.47,66.99 L553.04,58.32 L589.09,37.28 L625.13,24.90" fill="none" stroke="#3b55a8" stroke-width="2.20" stroke-linejoin="round"/>
<path d="M429.80,115.27 L491.42,88.65 L527.47,70.08 L553.04,60.80 L589.09,39.13 L625.13,27.37" fill="none" stroke="#3b55a8" stroke-width="2.20" stroke-linejoin="round"/>
<path d="M429.80,118.36 L491.42,91.13 L527.47,71.94 L553.04,62.66 L589.09,40.99 L625.13,29.85" fill="none" stroke="#3b55a8" stroke-width="2.20" stroke-linejoin="round"/>
<path d="M429.80,120.22 L491.42,92.99 L527.47,68.23 L553.04,101.03 L589.09,47.18 L625.13,31.70" fill="none" stroke="#3b55a8" stroke-width="2.20" stroke-linejoin="round"/>
<path d="M429.80,133.22 L491.42,109.08 L527.47,91.75 L553.04,79.37 L589.09,47.18 L625.13,32.94" fill="none" stroke="#3b55a8" stroke-width="2.20" stroke-linejoin="round"/>
<path d="M429.80,161.69 L491.42,118.36 L527.47,97.94 L553.04,87.41 L589.09,53.99 L625.13,47.80" fill="none" stroke="#3b55a8" stroke-width="2.20" stroke-linejoin="round"/>
<path d="M429.80,104.75 L491.42,90.51 L527.47,76.27 L553.04,63.89 L589.09,40.99 L625.13,23.66" fill="none" stroke="#ec1c2a" stroke-width="2.20" stroke-linejoin="round"/>
<path d="M429.80,149.31 L491.42,100.41 L527.47,128.89 L553.04,132.60 L589.09,141.89 L634.50,95.46" fill="none" stroke="#ec1c2a" stroke-width="2.20" stroke-linejoin="round"/>
<path d="M429.80,165.41 L491.42,164.48 L527.47,128.89 L553.04,101.03 L589.09,49.66 L625.13,26.13" fill="none" stroke="#ec1c2a" stroke-width="2.20" stroke-linejoin="round"/>
<path d="M429.80,179.03 L491.42,114.65 L527.47,90.51 L553.04,74.42 L589.09,44.70 L625.13,27.37" fill="none" stroke="#ec1c2a" stroke-width="2.20" stroke-linejoin="round"/>
<path d="M429.80,193.26 L491.42,117.75 L527.47,92.99 L553.04,78.13 L589.09,48.42 L614.66,45.32" fill="none" stroke="#ec1c2a" stroke-width="2.20" stroke-linejoin="round"/>
<line x1="429.80" y1="381.00" x2="429.80" y2="410.00" stroke="#ec1c2a" stroke-width="1.60" />
<line x1="491.42" y1="342.20" x2="491.42" y2="366.70" stroke="#ec1c2a" stroke-width="1.60" />
<line x1="527.47" y1="330.00" x2="527.47" y2="351.00" stroke="#ec1c2a" stroke-width="1.60" />
<line x1="553.04" y1="315.00" x2="553.04" y2="338.20" stroke="#ec1c2a" stroke-width="1.60" />
<line x1="589.09" y1="281.00" x2="589.09" y2="321.80" stroke="#ec1c2a" stroke-width="1.60" />
<line x1="614.66" y1="283.50" x2="614.66" y2="353.10" stroke="#ec1c2a" stroke-width="1.60" />
<path d="M429.80,394.40 L491.42,353.90 L527.47,340.10 L553.04,325.40 L589.09,302.10 L614.66,317.80 L625.13,262.20 L634.20,333.20" fill="none" stroke="#ec1c2a" stroke-width="2.40" stroke-linejoin="round"/>
<circle cx="429.80" cy="394.40" r="6.0" fill="none" stroke="#ec1c2a" stroke-width="1.8"/>
<circle cx="491.42" cy="353.90" r="6.0" fill="none" stroke="#ec1c2a" stroke-width="1.8"/>
<circle cx="527.47" cy="340.10" r="6.0" fill="none" stroke="#ec1c2a" stroke-width="1.8"/>
<circle cx="553.04" cy="325.40" r="6.0" fill="none" stroke="#ec1c2a" stroke-width="1.8"/>
<circle cx="589.09" cy="302.10" r="6.0" fill="none" stroke="#ec1c2a" stroke-width="1.8"/>
<line x1="429.80" y1="352.50" x2="429.80" y2="365.10" stroke="#3b55a8" stroke-width="1.40" />
<line x1="491.42" y1="324.30" x2="491.42" y2="336.90" stroke="#3b55a8" stroke-width="1.40" />
<line x1="527.47" y1="306.90" x2="527.47" y2="319.50" stroke="#3b55a8" stroke-width="1.40" />
<line x1="553.04" y1="303.90" x2="553.04" y2="316.50" stroke="#3b55a8" stroke-width="1.40" />
<line x1="589.09" y1="275.30" x2="589.09" y2="287.90" stroke="#3b55a8" stroke-width="1.40" />
<line x1="625.13" y1="261.00" x2="625.13" y2="273.60" stroke="#3b55a8" stroke-width="1.40" />
<path d="M429.80,358.80 L491.42,330.60 L527.47,313.20 L553.04,310.20 L589.09,281.60 L625.13,267.30" fill="none" stroke="#3b55a8" stroke-width="2.40" stroke-linejoin="round"/>
<circle cx="429.80" cy="358.80" r="6.0" fill="none" stroke="#3b55a8" stroke-width="1.8"/>
<circle cx="491.42" cy="330.60" r="6.0" fill="none" stroke="#3b55a8" stroke-width="1.8"/>
<circle cx="527.47" cy="313.20" r="6.0" fill="none" stroke="#3b55a8" stroke-width="1.8"/>
<circle cx="553.04" cy="310.20" r="6.0" fill="none" stroke="#3b55a8" stroke-width="1.8"/>
<circle cx="589.09" cy="281.60" r="6.0" fill="none" stroke="#3b55a8" stroke-width="1.8"/>
<circle cx="625.13" cy="267.30" r="6.0" fill="none" stroke="#3b55a8" stroke-width="1.8"/>
<line x1="408.80" y1="262.30" x2="408.80" y2="370.00" stroke="#000" stroke-width="2.00" />
<path d="M404.8,368 L412.8,368 L408.8,380 Z" fill="#000"/>
<text font-size="19" transform="translate(426.95,334.30) rotate(-90) scale(0.9313,1.0846)" fill="#000" >earlier =</text>
<text font-size="19" transform="translate(439.75,347.25) rotate(-90) scale(0.9635,1.0059)" fill="#000" >more apical</text>
<line x1="480.30" y1="389.50" x2="502.00" y2="389.50" stroke="#3b55a8" stroke-width="2.20" />
<line x1="480.30" y1="411.20" x2="502.00" y2="411.20" stroke="#ec1c2a" stroke-width="2.20" />
<text font-size="20.5" transform="translate(506.70,397.65) rotate(0) scale(0.9927,0.9800)" fill="#000" >Control ears</text>
<text font-size="20.5" transform="translate(506.50,419.25) rotate(0) scale(0.9984,0.9737)" fill="#000" >Operated ears</text>
</svg>
</body></html>
